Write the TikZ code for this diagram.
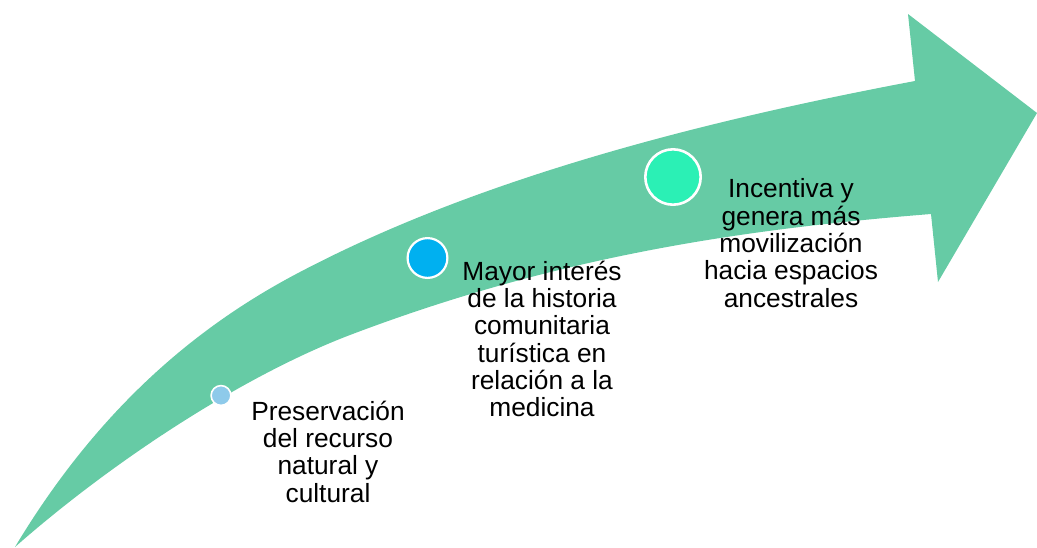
\documentclass[tikz,border=0pt]{standalone}
\usepackage{fontspec}
\setmainfont{Liberation Sans}
\definecolor{arrowgreen}{HTML}{66CBA5}
\definecolor{dotlight}{HTML}{8ECAEA}
\definecolor{dotblue}{HTML}{00B0F0}
\definecolor{dotmint}{HTML}{2BF0B5}
\tikzset{
  arrowbody/.style={fill=arrowgreen, draw=none},
  dot/.style={circle, draw=white, inner sep=0pt},
  label/.style={align=center, inner sep=0pt, font=\fontsize{26.3}{27.3}\selectfont, text=black}
}
\begin{document}
\begin{tikzpicture}[x=1pt, y=-1pt]
\useasboundingbox (0,0) rectangle (1037,547);
\fill[arrowbody]
  (15,547) .. controls (105,397) and (210,319) .. (300,272)
  .. controls (460,188) and (665,128) .. (915,81)
  -- (908,14) -- (1037,113) -- (938,282) -- (931,214)
  .. controls (731,230) and (550,259) .. (350,335)
  .. controls (245,375) and (115,459) .. (15,547)
  -- cycle;
\node[dot, fill=dotlight, line width=1.6pt, minimum size=19.8pt] (d1) at (221,395.5) {};
\node[dot, fill=dotblue, line width=2.2pt, minimum size=39.8pt] (d2) at (427.5,258) {};
\node[dot, fill=dotmint, line width=2.6pt, minimum size=55.4pt] (d3) at (673,177) {};
\node[label] (t1) at (328,451.5) {Preservación\\del recurso\\natural y\\cultural};
\node[label] (t2) at (542,339) {Mayor interés\\de la historia\\comunitaria\\turística en\\relación a la\\medicina};
\node[label] (t3) at (791,243) {Incentiva y\\genera más\\movilización\\hacia espacios\\ancestrales};
\end{tikzpicture}
\end{document}
